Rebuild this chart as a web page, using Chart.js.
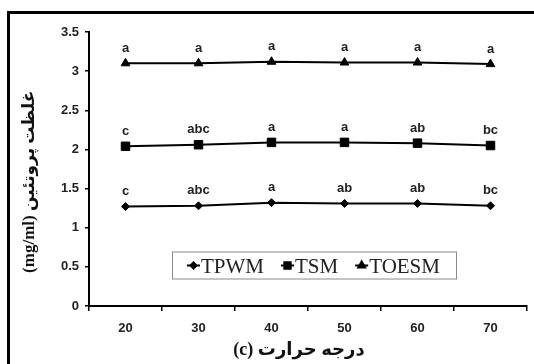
<!DOCTYPE html>
<html>
<head>
<meta charset="utf-8">
<script src="https://cdn.jsdelivr.net/npm/chart.js@4.4.0/dist/chart.umd.min.js"></script>
<style>
    html, body { margin: 0; padding: 0; background: #fff; overflow: hidden; }
    #wrap { position: relative; width: 534px; height: 364px; overflow: hidden; background: #fff; }
    #frame { position: absolute; left: 7px; top: 11px; width: 600px; height: 420px; border: 3px solid #000; box-sizing: border-box; }
    #chart { position: absolute; left: 0; top: 0; }
</style>
</head>
<body>
<div id="wrap">
    <div id="frame"></div>
    <canvas id="chart" width="534" height="364"></canvas>
</div>
<script>
// --- Data ---
const temperatures = ['20', '30', '40', '50', '60', '70'];
const tpwmValues = [1.27, 1.28, 1.32, 1.31, 1.31, 1.28];
const tsmValues = [2.04, 2.06, 2.09, 2.09, 2.08, 2.05];
const toesmValues = [3.10, 3.10, 3.12, 3.11, 3.11, 3.09];
const tpwmLetters = ['c', 'abc', 'a', 'ab', 'ab', 'bc'];
const tsmLetters = ['c', 'abc', 'a', 'a', 'ab', 'bc'];
const toesmLetters = ['a', 'a', 'a', 'a', 'a', 'a'];
const yTicks = [0, 0.5, 1, 1.5, 2, 2.5, 3, 3.5];

const SANS = '"Liberation Sans", Arial, sans-serif';
const SERIF = '"Liberation Serif", "Times New Roman", "DejaVu Sans", serif';

// significance letters above every point
const lettersPlugin = {
    id: 'letters',
    afterDatasetsDraw(chart) {
        const ctx = chart.ctx;
        ctx.save();
        ctx.font = 'bold 13px ' + SANS;
        ctx.fillStyle = '#222';
        ctx.textAlign = 'center';
        ctx.textBaseline = 'middle';
        chart.data.datasets.forEach((ds, i) => {
            chart.getDatasetMeta(i).data.forEach((pt, j) => {
                ctx.fillText(ds.letters[j], pt.x, pt.y - 15);
            });
        });
        ctx.restore();
    }
};

// boxed legend sitting inside the plot area
const boxLegendPlugin = {
    id: 'boxLegend',
    afterDraw(chart) {
        const { ctx, chartArea } = chart;
        const bx = chartArea.left + 83, by = chartArea.top + 219.5, bw = 284, bh = 27;
        ctx.save();
        ctx.fillStyle = '#fff';
        ctx.fillRect(bx, by, bw, bh);
        ctx.strokeStyle = '#8a8a8a';
        ctx.lineWidth = 1;
        ctx.strokeRect(bx + 0.5, by + 0.5, bw, bh);

        ctx.font = '21px ' + SERIF;
        ctx.textBaseline = 'alphabetic';
        const cy = by + bh / 2 + 0.5;
        let x = bx + 15;
        chart.data.datasets.forEach(ds => {
            ctx.strokeStyle = '#000';
            ctx.lineWidth = 2;
            ctx.beginPath();
            ctx.moveTo(x, cy);
            ctx.lineTo(x + 13, cy);
            ctx.stroke();
            ctx.fillStyle = '#000';
            Chart.helpers.drawPoint(ctx, {
                pointStyle: ds.pointStyle,
                radius: ds.legendRadius,
                rotation: 0,
                borderWidth: 1
            }, x + 6.5, cy);
            ctx.fillStyle = '#222';
            ctx.fillText(ds.label, x + 14, by + 21);
            x += 14 + ctx.measureText(ds.label).width + 17;
        });
        ctx.restore();
    }
};

function series(label, values, letters, style, radius, legendRadius) {
    return {
        label: label,
        data: values,
        letters: letters,
        borderColor: '#000',
        backgroundColor: '#000',
        borderWidth: 2,
        pointStyle: style,
        pointRadius: radius,
        pointBackgroundColor: '#000',
        pointBorderColor: '#000',
        pointBorderWidth: 1,
        legendRadius: legendRadius,
        tension: 0,
        fill: false
    };
}

new Chart(document.getElementById('chart'), {
    type: 'line',
    data: {
        labels: temperatures,
        datasets: [
            series('TPWM', tpwmValues, tpwmLetters, 'rectRot', 4, 3),
            series('TSM', tsmValues, tsmLetters, 'rect', 6, 4.5),
            series('TOESM', toesmValues, toesmLetters, 'triangle', 5, 4)
        ]
    },
    options: {
        responsive: false,
        animation: false,
        layout: { padding: { left: 15, right: 7, top: 32, bottom: 0 } },
        plugins: {
            legend: { display: false },
            tooltip: { enabled: false }
        },
        scales: {
            x: {
                offset: true,
                border: { color: '#000', width: 2 },
                grid: { offset: true, drawOnChartArea: false, tickLength: 5, color: '#000', lineWidth: 1.5 },
                ticks: { padding: 10, color: '#222', font: { family: SANS, size: 13, weight: 'bold' } },
                title: {
                    display: true,
                    // trailing spaces nudge the centred title a little to the left
                    text: '(c) درجه حرارت    ',
                    color: '#111',
                    font: { family: SERIF, size: 18, weight: 'bold' },
                    padding: { top: 0, bottom: 3 }
                },
                afterFit(scale) { scale.height = 58; }
            },
            y: {
                min: 0,
                max: 3.5,
                border: { color: '#000', width: 2 },
                grid: { drawOnChartArea: false, tickLength: 4, color: '#000', lineWidth: 1.5 },
                afterBuildTicks(scale) { scale.ticks = yTicks.map(v => ({ value: v })); },
                ticks: {
                    padding: 6,
                    color: '#222',
                    font: { family: SANS, size: 13, weight: 'bold' },
                    callback: v => String(v)
                },
                title: {
                    display: true,
                    // trailing spaces push the rotated title down toward its place in the original
                    text: '(mg/ml) غلظت پروتئین      ',
                    color: '#111',
                    font: { family: SERIF, size: 17, weight: 'bold' },
                    padding: { top: 4, bottom: 0 }
                },
                afterFit(scale) { scale.width = 74; }
            }
        }
    },
    plugins: [lettersPlugin, boxLegendPlugin]
});
</script>
</body>
</html>
